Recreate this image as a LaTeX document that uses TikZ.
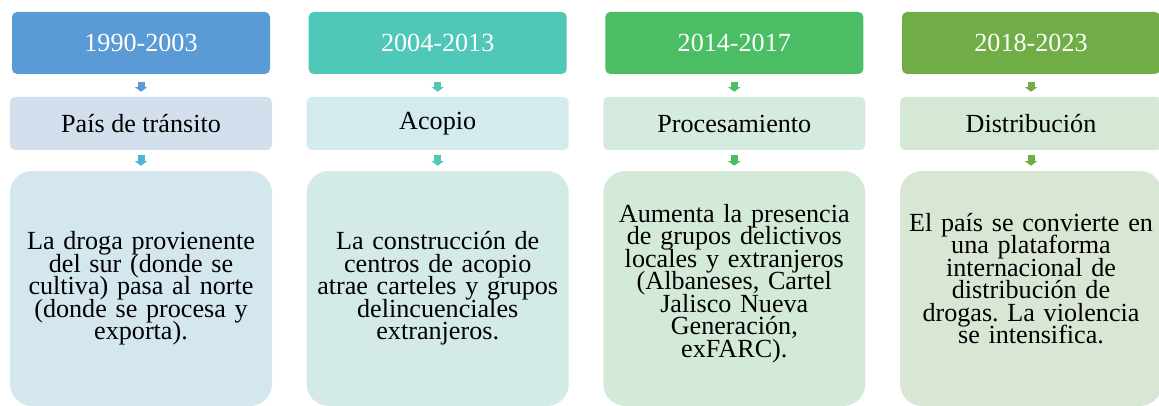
\documentclass[tikz,border=0pt]{standalone}
\usepackage{fontspec}
\setmainfont{Liberation Serif}
\usetikzlibrary{arrows.meta}
\frenchspacing

\definecolor{yearA}{RGB}{91,155,213}
\definecolor{stageA}{RGB}{212,223,238}
\definecolor{descrA}{RGB}{212,230,238}
\definecolor{arrowA}{RGB}{80,180,210}
\definecolor{yearB}{RGB}{80,200,183}
\definecolor{stageB}{RGB}{211,235,237}
\definecolor{descrB}{RGB}{211,234,230}
\definecolor{yearC}{RGB}{75,190,101}
\definecolor{stageC}{RGB}{212,235,222}
\definecolor{descrC}{RGB}{212,234,217}
\definecolor{yearD}{RGB}{112,173,71}
\definecolor{stageD}{RGB}{213,232,214}
\definecolor{descrD}{RGB}{218,230,212}

\newcommand{\boxfont}{\fontsize{19.6pt}{16.9pt}\selectfont\lineskiplimit=-50pt}

\begin{document}
\begin{tikzpicture}[x=0.75pt, y=-0.75pt,
    yearbox/.style={rectangle, rounded corners=3.75pt, minimum width=193.5pt, minimum height=46.5pt, inner sep=0pt, text=white, font=\boxfont},
    stagebox/.style={rectangle, rounded corners=3.75pt, minimum width=196.5pt, minimum height=39.75pt, inner sep=0pt, font=\boxfont},
    descrbox/.style={rectangle, rounded corners=16.5pt, minimum width=196.5pt, minimum height=176.25pt, inner sep=0pt, text width=190pt, align=center, font=\boxfont},
    link/.style={line width=5.25pt, -{Triangle[width=9pt, length=3.4pt]}, shorten >=3.75pt}]
        \useasboundingbox (0,0) rectangle (1159,406);

        % First column
        \begin{scope}[shift={(0,0)}]
            \node[yearbox, fill=yearA] (Y1) at (141,43) {1990-2003};
            \node[stagebox, fill=stageA] (S1) at (141,123.5) {País de tránsito};
            \node[descrbox, fill=descrA] (D1) at (141,288.5) {La droga provienente\\ del sur (donde se\\ cultiva) pasa al norte\\ (donde se procesa y\\ exporta).};
            \draw[link, yearA, shorten <=6pt] (Y1) -- (S1);
            \draw[link, arrowA, shorten <=3.75pt] (S1) -- (D1);
        \end{scope}

        % Second column
        \begin{scope}[shift={(296.7,0)}]
            \node[yearbox, fill=yearB] (Y2) at (141,43) {2004-2013};
            \node[stagebox, fill=stageB] (S2) at (141,123.5) {Acopio};
            \node[descrbox, fill=descrB] (D2) at (141,288.5) {La construcción de\\ centros de acopio\\ atrae carteles y grupos\\ delincuenciales\\ extranjeros.};
            \draw[link, yearB, shorten <=6pt] (Y2) -- (S2);
            \draw[link, yearB, shorten <=3.75pt] (S2) -- (D2);
        \end{scope}

        % Third column
        \begin{scope}[shift={(593.3,0)}]
            \node[yearbox, fill=yearC] (Y3) at (141,43) {2014-2017};
            \node[stagebox, fill=stageC] (S3) at (141,123.5) {Procesamiento};
            \node[descrbox, fill=descrC, text depth=113pt] (D3) at (141,288.5) {Aumenta la presencia\\ de grupos delictivos\\ locales y extranjeros\\ (Albaneses, Cartel\\ Jalisco Nueva\\ Generación,\\ exFARC).};
            \draw[link, yearC, shorten <=6pt] (Y3) -- (S3);
            \draw[link, yearC, shorten <=3.75pt] (S3) -- (D3);
        \end{scope}

        % Fourth column
        \begin{scope}[shift={(890,0)}]
            \node[yearbox, fill=yearD] (Y4) at (141,43) {2018-2023};
            \node[stagebox, fill=stageD] (S4) at (141,123.5) {Distribución};
            \node[descrbox, fill=descrD, text depth=99.5pt] (D4) at (141,288.5) {El país se convierte en\\ una plataforma\\ internacional de\\ distribución de\\ drogas. La violencia\\ se intensifica.};
            \draw[link, yearD, shorten <=6pt] (Y4) -- (S4);
            \draw[link, yearD, shorten <=3.75pt] (S4) -- (D4);
        \end{scope}
    \end{tikzpicture}
\end{document}
